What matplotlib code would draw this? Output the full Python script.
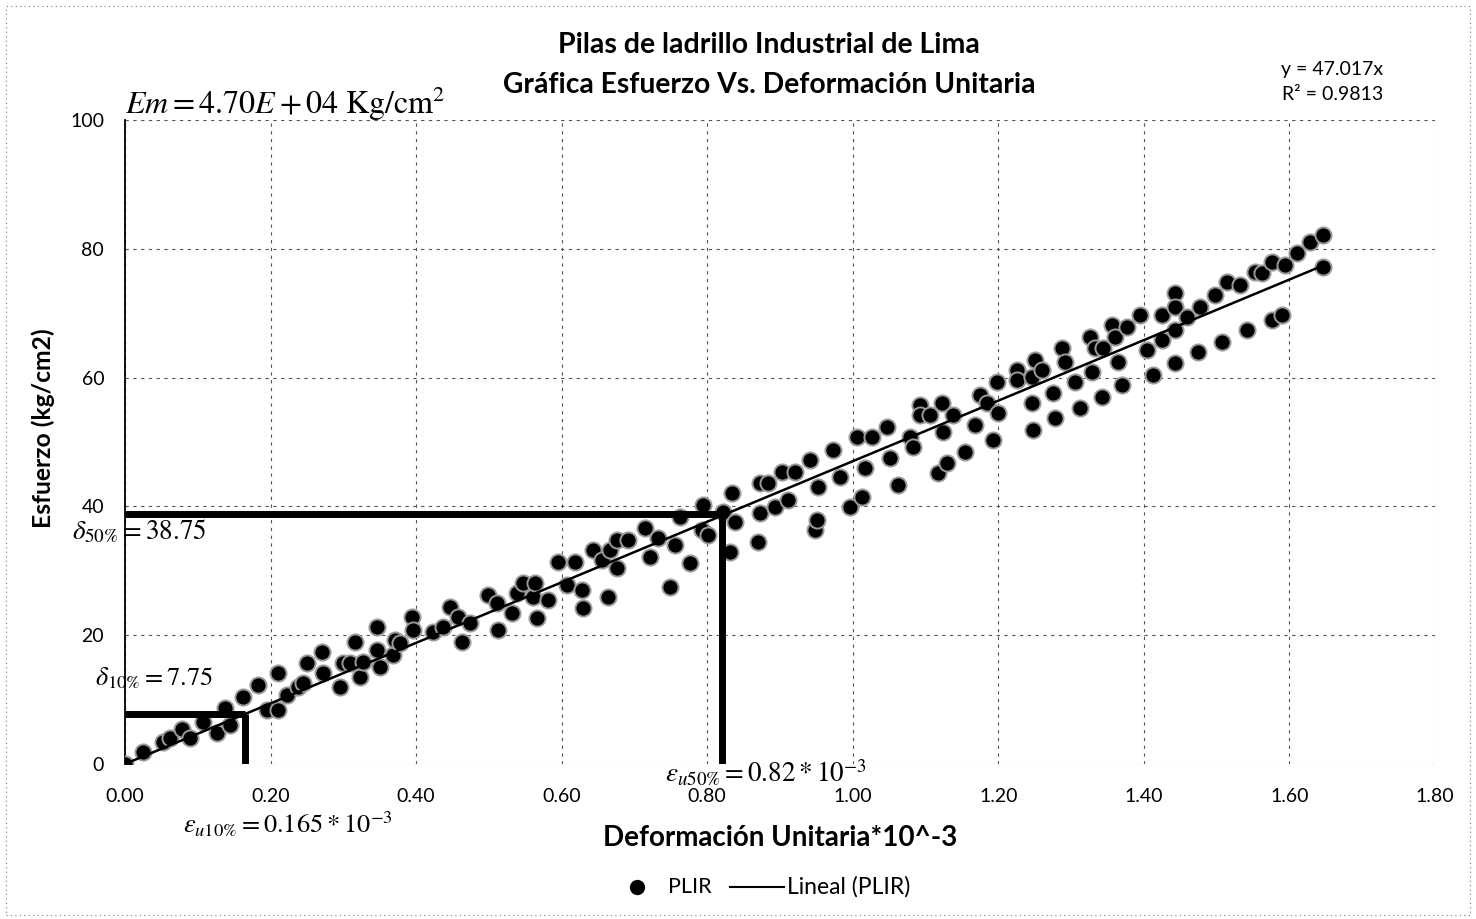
import matplotlib
matplotlib.use("Agg")
import matplotlib.pyplot as plt
import numpy as np
from matplotlib.lines import Line2D
from matplotlib.patches import Rectangle

plt.rcParams['font.family'] = ['Lato', 'DejaVu Sans']
plt.rcParams['mathtext.fontset'] = 'stix'

# ---- data ----
strain = [0.000, 0.025, 0.052, 0.062, 0.078, 0.089, 0.107, 0.126, 0.137, 0.144,
          0.162, 0.183, 0.195, 0.210, 0.210, 0.222, 0.238, 0.245, 0.250, 0.270,
          0.272, 0.295, 0.300, 0.309, 0.316, 0.323, 0.327, 0.346, 0.346, 0.350,
          0.368, 0.371, 0.378, 0.394, 0.396, 0.423, 0.437, 0.447, 0.458, 0.463,
          0.474, 0.499, 0.511, 0.513, 0.532, 0.538, 0.547, 0.561, 0.563, 0.566,
          0.581, 0.595, 0.607, 0.618, 0.628, 0.629, 0.643, 0.655, 0.664, 0.666,
          0.676, 0.676, 0.691, 0.714, 0.721, 0.732, 0.749, 0.756, 0.763, 0.776,
          0.793, 0.794, 0.801, 0.822, 0.831, 0.834, 0.838, 0.870, 0.872, 0.872,
          0.884, 0.893, 0.903, 0.911, 0.921, 0.941, 0.948, 0.951, 0.952, 0.973,
          0.982, 0.996, 1.006, 1.013, 1.017, 1.026, 1.047, 1.051, 1.062, 1.079,
          1.083, 1.093, 1.093, 1.106, 1.117, 1.123, 1.124, 1.129, 1.138, 1.154,
          1.168, 1.175, 1.184, 1.193, 1.198, 1.200, 1.226, 1.226, 1.246, 1.250,
          1.246, 1.248, 1.260, 1.275, 1.278, 1.287, 1.292, 1.305, 1.312, 1.326,
          1.329, 1.333, 1.344, 1.342, 1.356, 1.360, 1.364, 1.370, 1.377, 1.395,
          1.404, 1.413, 1.425, 1.425, 1.443, 1.443, 1.443, 1.443, 1.459, 1.474,
          1.477, 1.498, 1.507, 1.514, 1.532, 1.542, 1.553, 1.562, 1.576, 1.576,
          1.590, 1.594, 1.610, 1.628, 1.646, 1.646]
stress = [0.0, 1.9, 3.4, 4.0, 5.4, 4.0, 6.5, 4.8, 8.7, 6.1,
          10.4, 12.3, 8.4, 14.1, 8.4, 10.7, 12.0, 12.6, 15.7, 17.4,
          14.1, 12.0, 15.7, 15.7, 18.9, 13.5, 15.8, 21.3, 17.7, 15.1,
          16.9, 19.3, 18.8, 22.8, 20.8, 20.5, 21.3, 24.4, 22.8, 19.0,
          21.9, 26.2, 25.0, 20.8, 23.4, 26.5, 28.1, 25.9, 28.1, 22.7,
          25.5, 31.4, 27.8, 31.4, 27.0, 24.2, 33.2, 31.7, 25.9, 33.2,
          34.8, 30.4, 34.8, 36.6, 32.1, 35.1, 27.5, 34.0, 38.4, 31.2,
          36.3, 40.2, 35.6, 39.1, 32.9, 42.1, 37.6, 34.5, 43.6, 39.0,
          43.6, 39.9, 45.3, 41.0, 45.3, 47.2, 36.3, 37.9, 43.0, 48.8,
          44.6, 39.9, 50.8, 41.5, 46.0, 50.8, 52.3, 47.5, 43.3, 50.8,
          49.2, 55.7, 54.2, 54.2, 45.2, 56.1, 51.6, 46.7, 54.2, 48.4,
          52.6, 57.3, 56.1, 50.3, 59.3, 54.5, 61.2, 59.6, 60.1, 62.7,
          56.1, 51.9, 61.2, 57.6, 53.7, 64.6, 62.4, 59.3, 55.3, 66.3,
          60.9, 64.6, 64.6, 57.0, 68.2, 66.3, 62.4, 58.9, 67.9, 69.7,
          64.3, 60.4, 69.7, 65.8, 73.1, 71.0, 67.4, 62.3, 69.4, 64.0,
          71.0, 72.8, 65.5, 74.8, 74.4, 67.4, 76.4, 76.2, 77.9, 68.9,
          69.7, 77.5, 79.3, 81.1, 82.1, 77.2]

slope = 47.017
r2 = 0.9813
eps50, sig50 = 0.82, 38.75
eps10, sig10 = 0.165, 7.75

x_ticks = [0.00, 0.20, 0.40, 0.60, 0.80, 1.00, 1.20, 1.40, 1.60, 1.80]
y_ticks = [0, 20, 40, 60, 80, 100]

W, H = 1476, 919

# ---- figure ----
fig = plt.figure(figsize=(W / 100, H / 100), dpi=100)
ax = fig.add_axes([0.0847, 0.1687, 0.8875, 0.7007])

ax.set_xlim(0, 1.8)
ax.set_ylim(0, 100)
ax.set_xticks(x_ticks)
ax.set_xticklabels([f"{v:.2f}" for v in x_ticks])
ax.set_yticks(y_ticks)
ax.tick_params(axis='x', length=0, labelsize=14, pad=17)
ax.tick_params(axis='y', length=0, labelsize=14, pad=15)
ax.grid(True, color='#555555', linestyle=(0, (3, 4)), linewidth=0.8)
for s in ['top', 'right', 'bottom']:
    ax.spines[s].set_visible(False)
ax.spines['left'].set_color('black')
ax.spines['left'].set_linewidth(1.3)

# guide lines
ax.plot([0, eps50], [sig50, sig50], color='black', lw=5, solid_capstyle='butt', zorder=4)
ax.plot([eps50, eps50], [0, sig50], color='black', lw=5, solid_capstyle='butt', zorder=4)
ax.plot([0, eps10], [sig10, sig10], color='black', lw=5, solid_capstyle='butt', zorder=4)
ax.plot([eps10, eps10], [0, sig10], color='black', lw=5, solid_capstyle='butt', zorder=4)

# data
ax.scatter(strain, stress, s=135, color='black', edgecolors='#9a9a9a',
           linewidths=1.4, zorder=3)
xs = np.array([0, max(strain)])
ax.plot(xs, slope * xs, color='black', lw=1.8, zorder=5)

# titles / labels
fig.text(0.521, 0.951, "Pilas de ladrillo Industrial de Lima", ha='center', va='center',
         fontsize=20.5, fontweight='bold')
fig.text(0.521, 0.908, "Gráfica Esfuerzo Vs. Deformación Unitaria", ha='center', va='center',
         fontsize=20.3, fontweight='bold')
ax.set_xlabel("Deformación Unitaria*10^-3", fontsize=20, fontweight='bold', va='center')
ax.xaxis.set_label_coords(0.5, -0.115)
ax.set_ylabel("Esfuerzo (kg/cm2)", fontsize=17.7, fontweight='bold', va='center')
ax.yaxis.set_label_coords(-0.0626, 0.522)

fig.text(1332 / W, 1 - 70 / H, f"y = {slope}x", ha='center', va='center', fontsize=14)
fig.text(1333 / W, 1 - 95 / H, f"R² = {r2}", ha='center', va='center', fontsize=14)

fig.text(125 / W, 1 - 104 / H, r"$Em = 4.70E + 04\ \mathrm{Kg/cm^2}$", ha='left', va='center',
         fontsize=23)
ax.text(-0.073, sig50 - 2.6, r"$\delta_{50\%} = 38.75$", ha='left', va='center', fontsize=19.5,
        clip_on=False)
ax.text(-0.041, sig10 + 5.5, r"$\delta_{10\%} = 7.75$", ha='left', va='center', fontsize=19,
        clip_on=False)
ax.text(0.742, -1.4, r"$\varepsilon_{u50\%} = 0.82 * 10^{-3}$", ha='left', va='center',
        fontsize=19.5, clip_on=False)
ax.text(0.08, -9.3, r"$\varepsilon_{u10\%} = 0.165 * 10^{-3}$", ha='left', va='center',
        fontsize=19, clip_on=False)

# legend (drawn manually to match spacing)
ly = 1 - 887 / H
fig.add_artist(Line2D([637 / W], [ly], marker='o', color='black', markersize=10,
                      transform=fig.transFigure))
fig.text(668 / W, ly, "PLIR", ha='left', va='center', fontsize=15.5)
fig.add_artist(Line2D([730 / W, 784 / W], [ly, ly], color='black', lw=1.5,
                      transform=fig.transFigure))
fig.text(787 / W, ly, "Lineal (PLIR)", ha='left', va='center', fontsize=16.5)

# outer dotted frame
fig.patches.append(Rectangle((0.004, 0.004), 0.992, 0.99, transform=fig.transFigure,
                             fill=False, edgecolor='#777777', linestyle=(0, (1, 3)), lw=0.8))

fig.savefig("out.png", dpi=100)
